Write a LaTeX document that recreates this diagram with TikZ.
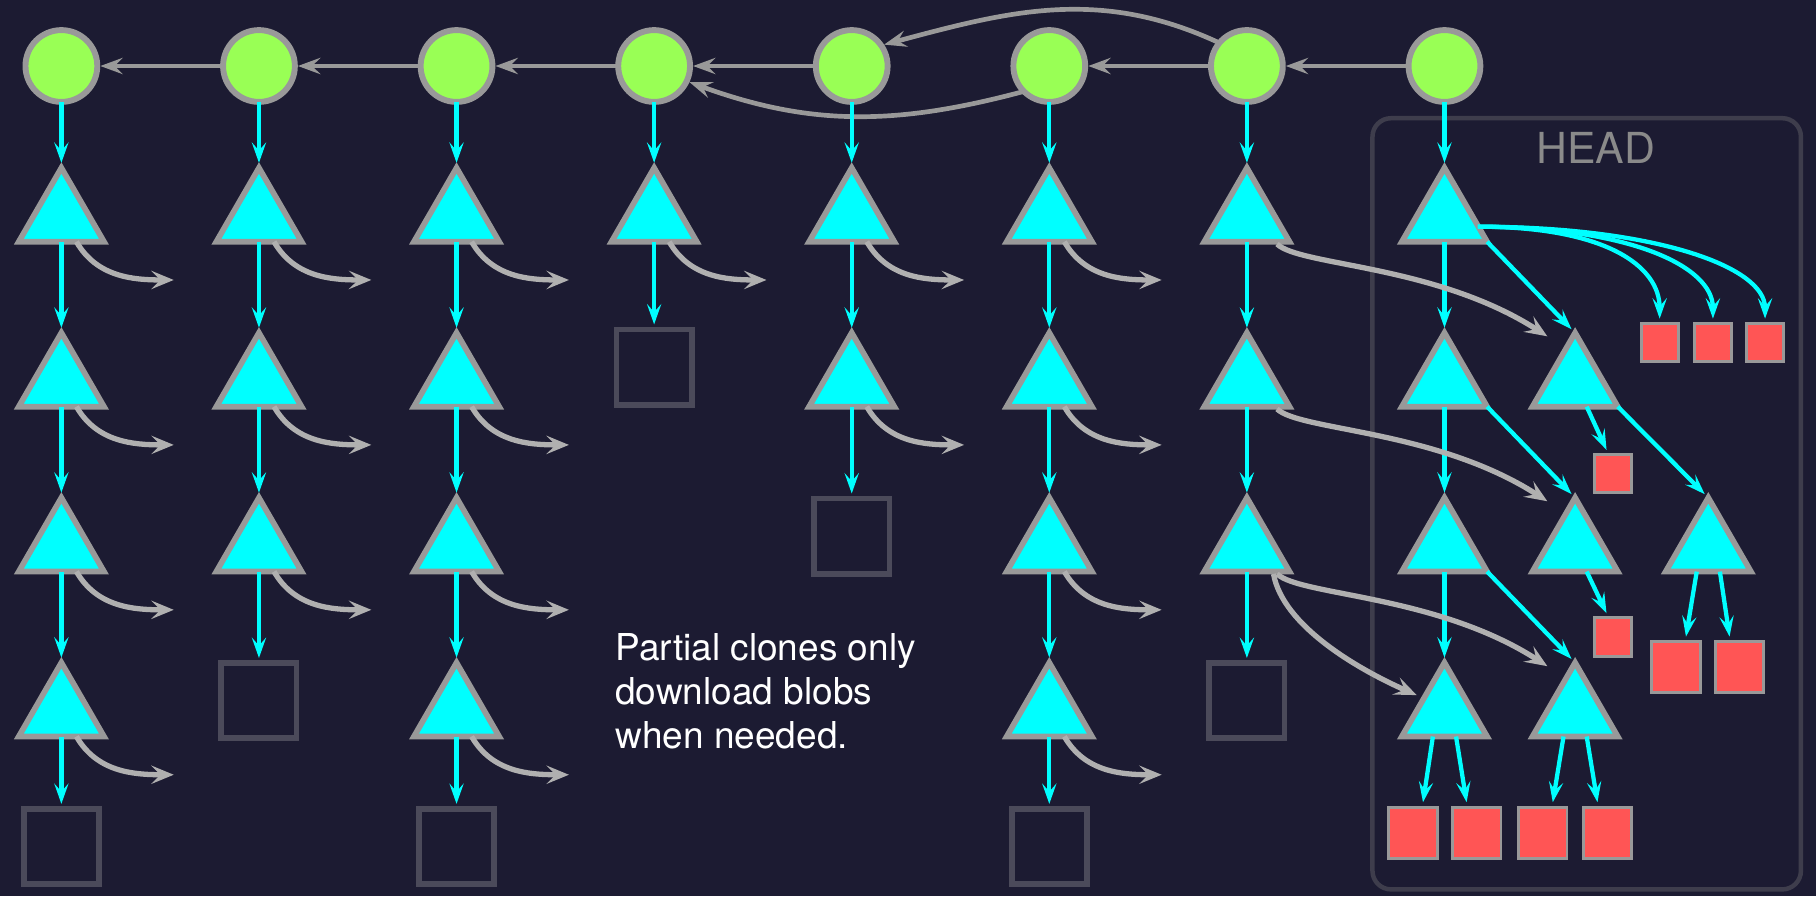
\documentclass[tikz,border=0pt]{standalone}
\usepackage{fontspec}
\setmainfont{TeX Gyre Heros}
\usetikzlibrary{shapes.geometric, arrows.meta, positioning}

\definecolor{bg}{HTML}{1C1B32}
\definecolor{nodegray}{HTML}{999999}
\definecolor{linkgray}{HTML}{B0B0B0}
\definecolor{commitgreen}{HTML}{99FF55}
\definecolor{treecyan}{HTML}{00FFFF}
\definecolor{blobred}{HTML}{FF5555}
\definecolor{emptygray}{HTML}{4B4A5A}
\definecolor{headgray}{HTML}{3E3D4C}
\definecolor{headtext}{HTML}{8A8A8A}

\tikzset{
    commit/.style = {circle, draw = nodegray, fill = commitgreen,
        line width = 2.9pt, minimum size = 1.24cm,
        inner sep = 0pt, outer sep = 0pt},
    tree/.style = {regular polygon, regular polygon sides = 3,
        draw = nodegray, fill = treecyan, line width = 2.8pt,
        minimum size = 1.7cm, inner sep = 0pt, outer sep = 0pt, anchor = north},
    noblob/.style = {draw = emptygray, line width = 2.8pt,
        minimum size = 1.3cm, inner sep = 0pt, outer sep = 0pt},
    blob/.style = {draw = nodegray, fill = blobred, line width = 1.4pt,
        minimum width = 0.64cm, minimum height = 0.66cm,
        inner sep = 0pt, outer sep = 0pt},
    bigblob/.style = {blob, minimum width = 0.84cm, minimum height = 0.88cm},
    parent/.style = {draw = nodegray, line width = 2.3pt, shorten > = 1.5pt,
        -{Stealth[length = 11pt, width = 8pt, inset = 4pt]}},
    down/.style = {draw = treecyan, line width = 2.1pt, shorten > = 2.5pt,
        -{Stealth[length = 10pt, width = 7pt, inset = 4pt]}},
    sidearrow/.style = {draw = linkgray, line width = 2.6pt,
        -{Stealth[length = 11pt, width = 9pt, inset = 4.5pt]}},
    headbox/.style = {draw = headgray, line width = 2.2pt, rounded corners = 0.32cm,
        minimum width = 7.4cm, minimum height = 13.32cm, inner sep = 0pt},
    caption/.style = {text = white, align = left, inner sep = 0pt,
        font = \fontsize{18.2}{21.5}\selectfont}
}

\begin{document}
\begin{tikzpicture}[x = 0.02cm, y = 0.02cm]
    \fill[bg] (0,0) rectangle (1568,774);
    \useasboundingbox (0,0) rectangle (1568,774);

    % HEAD
    \node[headbox] (head) at (1370,339) {};
    \node[text = headtext, font = \fontsize{21}{24}\selectfont]
        (headlabel) at ([shift = {(8,-28)}]head.north) {HEAD};

    % commits
    \foreach \i in {0,...,7}
        \node[commit] (c\i) at ({53+170.6*\i},717) {};
    \foreach \a/\b in {1/0,2/1,3/2,4/3,6/5,7/6}
        \draw[parent] (c\a) -- (c\b);
    \draw[parent] (c6.140) to[out = 155, in = 15] (c4.35);
    \draw[parent] (c5.225) to[out = -165, in = -20] (c3.-25);

    % trees
    \foreach \i/\n in {0/4,1/3,2/4,3/1,4/2,5/4,6/3,7/4}
        \foreach \r in {1,...,\n}
            \node[tree] (t\i-\r) at ({53+170.6*\i},{629-142.4*(\r-1)}) {};
    \node[tree] (u2) at (1360,486.6) {};
    \node[tree] (u3) at (1360,344.2) {};
    \node[tree] (u4) at (1360,201.8) {};
    \node[tree] (w3) at (1475,344.2) {};

    % missing blobs
    \foreach \i/\y in {0/43,1/169,2/43,3/457,4/311,5/43,6/169}
        \node[noblob] (b\i) at ({53+170.6*\i},\y) {};

    % downloaded blobs
    \node[blob] (p1) at (1433,478) {};
    \node[blob] (p2) at (1479,478) {};
    \node[blob] (p3) at (1524,478) {};
    \node[blob] (p4) at (1393,365) {};
    \node[blob] (p5) at (1393,224) {};
    \node[bigblob] (p6) at (1447,198) {};
    \node[bigblob] (p7) at (1502,198) {};
    \node[bigblob] (p8) at (1220,55) {};
    \node[bigblob] (p9) at (1275,55) {};
    \node[bigblob] (p10) at (1332,55) {};
    \node[bigblob] (p11) at (1388,55) {};

    % commit -> tree -> subtree
    \foreach \i in {0,...,7}
        \draw[down] (c\i) -- (t\i-1.north);
    \foreach \i/\n in {0/4,1/3,2/4,4/2,5/4,6/3,7/4}
        \foreach \r in {2,...,\n} {
            \pgfmathtruncatemacro{\q}{\r-1}
            \draw[down] (t\i-\q.south) -- (t\i-\r.north);
        }
    \foreach \i/\n in {0/4,1/3,2/4,3/1,4/2,5/4,6/3}
        \draw[down] (t\i-\n.south) -- (b\i.north);

    % reused trees
    \foreach \i/\n in {0/4,1/3,2/4,3/1,4/2,5/4}
        \foreach \r in {1,...,\n}
            \draw[sidearrow] ([shift = {(13,0)}]t\i-\r.south)
                to[out = -60, in = 180] ++(84,-33);
    \foreach \r/\u in {1/u2, 2/u3, 3/u4}
        \draw[sidearrow] ([shift = {(26,-2)}]t6-\r.south)
            .. controls +(20,-19) and +(-96,62) .. ([shift = {(-24,-3)}]\u.north);
    \draw[sidearrow] ([shift = {(23,-2)}]t6-3.south)
        .. controls +(8,-45) and +(-50,22) .. ([shift = {(-24,-28)}]t7-4.north);

    % HEAD tree
    \foreach \p/\d in {p1/110, p2/130, p3/150}
        \draw[down] ([shift = {(-8,13)}]t7-1.corner 3)
            .. controls +(\d,0) and +(0,50) .. (\p.north);
    \draw[down] (t7-1.corner 3) -- (u2.north);
    \draw[down] (t7-2.corner 3) -- (u3.north);
    \draw[down] (t7-3.corner 3) -- (u4.north);
    \draw[down] (u2.corner 3) -- (w3.north);
    \draw[down] ([shift = {(10,0)}]u2.south) -- ([shift = {(-4,0)}]p4.north);
    \draw[down] ([shift = {(10,0)}]u3.south) -- ([shift = {(-4,0)}]p5.north);
    \foreach \t/\l/\r in {w3/p6/p7, t7-4/p8/p9, u4/p10/p11} {
        \draw[down] ([shift = {(-10,0)}]\t.south) -- ([shift = {(8,0)}]\l.north);
        \draw[down] ([shift = {(10,0)}]\t.south) -- ([shift = {(-8,0)}]\r.north);
    }

    \node[caption, anchor = north west] (note) at (531,227)
        {Partial clones only\\download blobs\\when needed.};
\end{tikzpicture}
\end{document}
